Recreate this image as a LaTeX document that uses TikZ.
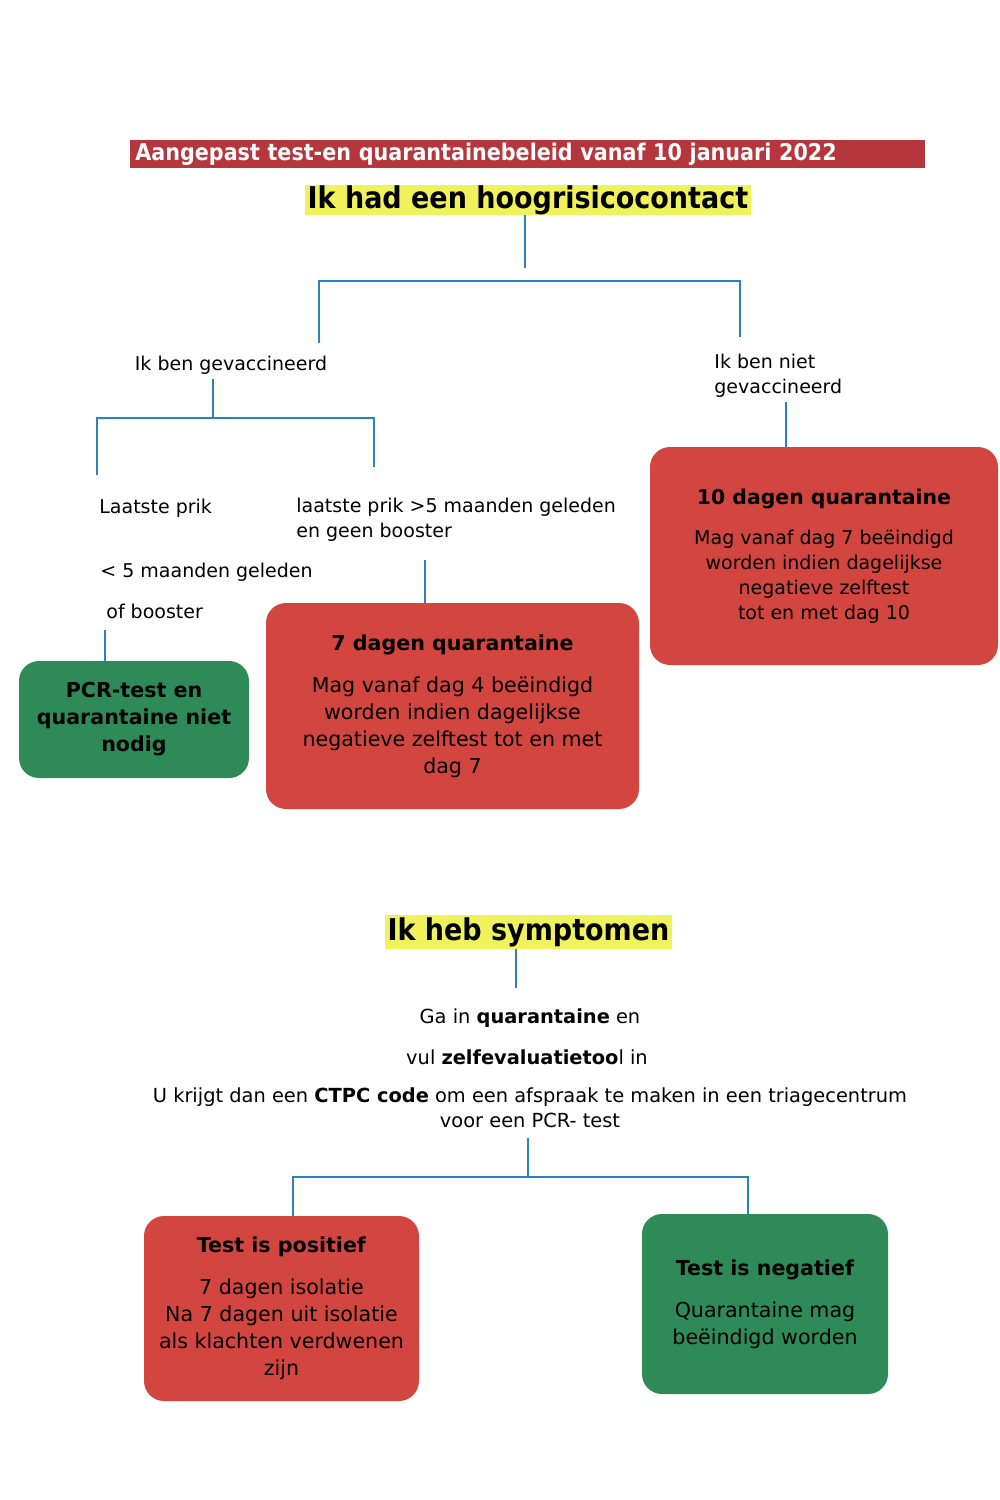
\documentclass[tikz,border=0pt]{standalone}
\usepackage{fontspec}
\setmainfont{DejaVu Sans}
\newfontfamily\condf{DejaVu Sans Condensed}
\definecolor{barred}{HTML}{B5373D}
\definecolor{boxred}{HTML}{D3463F}
\definecolor{boxgreen}{HTML}{2E8B57}
\definecolor{hlyellow}{HTML}{F0F25C}
\definecolor{linkblue}{HTML}{2C82BF}
\begin{document}
\begin{tikzpicture}[x=0.5pt,y=-0.5pt,
  conn/.style={draw=linkblue, line width=1.35pt},
  lbl/.style={inner sep=2pt, font={\fontsize{9.5}{12.5}\selectfont}},
  symtxt/.style={inner sep=2pt, font={\fontsize{9.7}{12.5}\selectfont}},
  hl/.style={fill=hlyellow, inner xsep=1.5pt, inner ysep=0pt, font={\condf\bfseries\fontsize{15}{17}\selectfont}},
  rbox/.style={fill=boxred, rounded corners=10pt, inner sep=0pt, align=center},
  gbox/.style={fill=boxgreen, rounded corners=10pt, inner sep=0pt, align=center}]
\fill[white] (0,0) rectangle (1000,1500);
\useasboundingbox (0,0) rectangle (1000,1500);

% title bar
\node[fill=barred, anchor=west, inner xsep=2.5pt, inner ysep=0pt, minimum height=14pt,
  text width=392.5pt, align=left, text=white,
  font={\condf\bfseries\fontsize{11.5}{13}\selectfont}] (bar) at (130,154)
  {Aangepast test-en quarantainebeleid vanaf 10 januari 2022};

\node[hl, minimum height=15pt] (hrc) at (528,200) {Ik had een hoogrisicocontact};

\node[lbl] (vac) at (231,365) {Ik ben gevaccineerd};
\node[lbl, anchor=west, align=left] (nvac) at (710,376) {Ik ben niet\\gevaccineerd};

\node[lbl, anchor=west] (lp) at (95,508) {Laatste prik};
\node[lbl, anchor=west, align=left] (lp5) at (292,520) {laatste prik >5 maanden geleden\\en geen booster};
\node[lbl, anchor=west] (lt5) at (96,572) {< 5 maanden geleden};
\node[lbl, anchor=west] (ofb) at (102,611) {of booster};

\node[gbox, minimum width=115pt, minimum height=58.5pt,
  font={\bfseries\fontsize{10.3}{13.5}\selectfont}] (pcr) at (134,719.5)
  {PCR-test en\\quarantaine niet\\nodig};
\node[rbox, minimum width=186.5pt, minimum height=103pt,
  font={\fontsize{10.3}{13.5}\selectfont}] (box7) at (452.5,706)
  {\textbf{7 dagen quarantaine}\\[7.5pt]Mag vanaf dag 4 beëindigd\\worden indien dagelijkse\\negatieve zelftest tot en met\\dag 7};
\node[rbox, minimum width=174pt, minimum height=109pt,
  font={\fontsize{9.5}{12.5}\selectfont}] (box10) at (824,556)
  {{\fontsize{10.2}{12.5}\selectfont\bfseries 10 dagen quarantaine}\\[7.5pt]Mag vanaf dag 7 beëindigd\\worden indien dagelijkse\\negatieve zelftest\\tot en met dag 10};

% connectors top part
\coordinate (t1) at (525,268);
\draw[conn] (hrc.south -| t1) -- (t1);
\coordinate (b1l) at (319,343);
\coordinate (b1m) at (525,281);
\coordinate (b1r) at (740,337);
\draw[conn] (b1l) |- (b1m) -| (b1r);

\coordinate (b2l) at (97,475);
\coordinate (b2m) at (213,418);
\coordinate (b2r) at (374,467);
\draw[conn] (vac.south -| b2m) -- (b2m);
\draw[conn] (b2l) |- (b2m) -| (b2r);

\coordinate (c3) at (786,402);
\draw[conn] (c3) -- (c3 |- box10.north);
\coordinate (c4) at (425,560);
\draw[conn] (c4) -- (c4 |- box7.north);
\coordinate (c5) at (105,630);
\draw[conn] (c5) -- (c5 |- pcr.north);

% symptoms part
\node[hl, minimum height=17pt] (sym) at (528.5,932) {Ik heb symptomen};
\coordinate (c6) at (516,988);
\draw[conn] (sym.south -| c6) -- (c6);

\node[symtxt] (ga) at (530,1018) {Ga in \textbf{quarantaine} en};
\node[symtxt] (vul) at (527,1057) {vul \textbf{zelfevaluatietoo}l in};
\node[symtxt, align=center] (ctpc) at (530,1108)
  {U krijgt dan een \textbf{CTPC code} om een afspraak te maken in een triagecentrum\\voor een PCR- test};

\node[rbox, minimum width=137.5pt, minimum height=92.5pt,
  font={\fontsize{10.3}{13.5}\selectfont}] (pos) at (281.5,1308.5)
  {\textbf{Test is positief}\\[7.5pt]7 dagen isolatie\\Na 7 dagen uit isolatie\\als klachten verdwenen\\zijn};
\node[gbox, minimum width=123pt, minimum height=90pt,
  font={\fontsize{10.3}{13.5}\selectfont}] (neg) at (765,1304)
  {\textbf{Test is negatief}\\[7.5pt]Quarantaine mag\\beëindigd worden};

\coordinate (c7) at (528,1138);
\coordinate (b3m) at (528,1177);
\coordinate (b3l) at (293,1177);
\coordinate (b3r) at (748,1177);
\draw[conn] (c7) -- (b3m);
\draw[conn] (b3l |- pos.north) -- (b3l) -- (b3r) -- (b3r |- neg.north);
\end{tikzpicture}
\end{document}
